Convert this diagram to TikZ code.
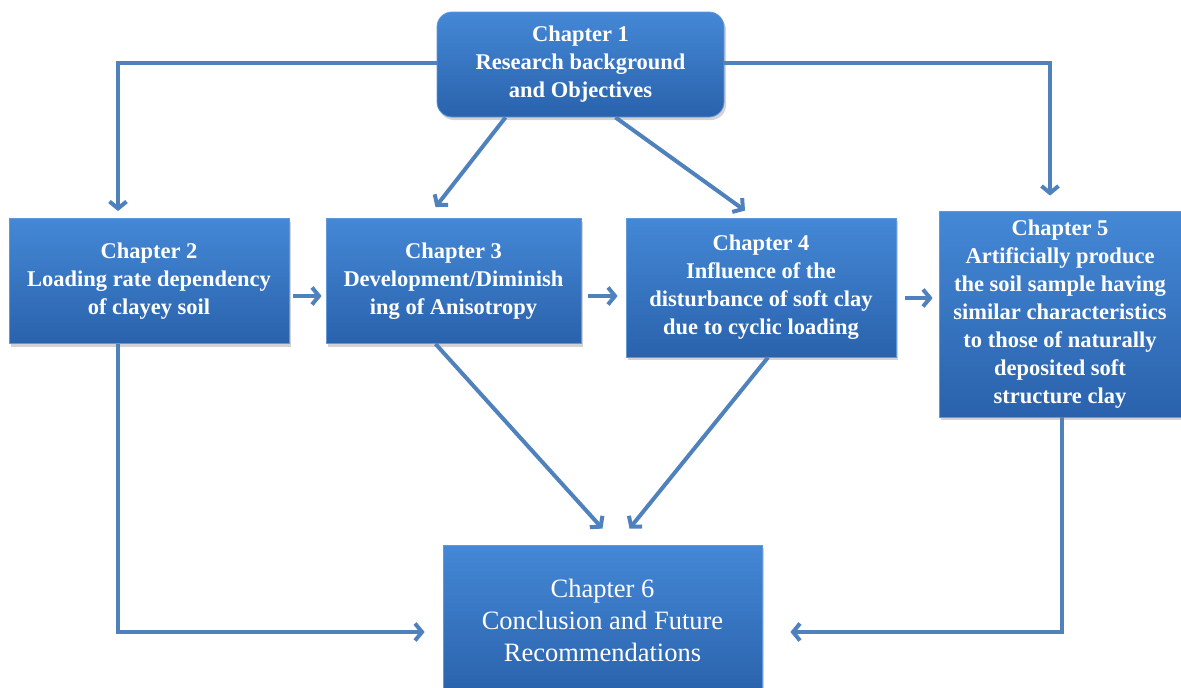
\documentclass[tikz,border=0pt]{standalone}
\usepackage{fontspec}
\setmainfont{Liberation Serif}
\usetikzlibrary{arrows.meta, shadows}

\definecolor{boxtop}{RGB}{68,136,214}
\definecolor{boxbot}{RGB}{42,98,172}
\definecolor{boxedge}{RGB}{96,152,218}
\definecolor{flowblue}{RGB}{79,129,189}

\begin{document}
\begin{tikzpicture}[x=1pt, y=-1pt,
		chapbox/.style={top color=boxtop, bottom color=boxbot, draw=boxedge, line width=0.8pt,
			text=white, align=center, inner sep=0pt, font=\fontsize{22.5}{28}\selectfont\bfseries,
			drop shadow={opacity=0.35, shadow xshift=2pt, shadow yshift=-3pt}},
		flow/.style={draw=flowblue, line width=4pt, -{Straight Barb[length=7pt, width=17pt]}}]
		\useasboundingbox (0,0) rectangle (1181,688);

		% Draw the chapter boxes
		\node[chapbox, rounded corners=15pt, minimum width=287pt, minimum height=105pt] (ch1) at (580.5,64.5)
			{Chapter 1\\Research background\\and Objectives};
		\node[chapbox, minimum width=280pt, minimum height=125pt] (ch2) at (149,281)
			{Chapter 2\\Loading rate dependency\\of clayey soil};
		\node[chapbox, minimum width=255pt, minimum height=125pt] (ch3) at (453.5,281)
			{Chapter 3\\Development/Diminish\\ing of Anisotropy};
		\node[chapbox, minimum width=270pt, minimum height=139pt] (ch4) at (761,287.5)
			{Chapter 4\\Influence of the\\disturbance of soft clay\\due to cyclic loading};
		\node[chapbox, minimum width=242pt, minimum height=206pt] (ch5) at (1060,314)
			{Chapter 5\\Artificially produce\\the soil sample having\\similar characteristics\\to those of naturally\\deposited soft\\structure clay};
		\node[chapbox, font=\fontsize{26.5}{32}\selectfont, minimum width=319pt, minimum height=150pt] (ch6) at (602.5,620)
			{Chapter 6\\Conclusion and Future\\Recommendations};

		% Draw the arrows from chapter 1
		\draw[flow] ([yshift=2pt]ch1.west) -| ([xshift=-31pt, yshift=7pt]ch2.north);
		\draw[flow] ([yshift=2pt]ch1.east) -| ([xshift=-10pt, yshift=15pt]ch5.north);
		\draw[flow] ([xshift=-75pt]ch1.south) -- ([xshift=-18pt, yshift=11pt]ch3.north);
		\draw[flow] ([xshift=35pt]ch1.south) -- ([xshift=-16pt, yshift=7pt]ch4.north);

		% Draw the arrows along the row
		\draw[flow] ([xshift=4pt, yshift=-15pt]ch2.east) -- ([xshift=-4pt, yshift=-15pt]ch3.west);
		\draw[flow] ([xshift=7pt, yshift=-15pt]ch3.east) -- ([xshift=-8pt, yshift=-8.5pt]ch4.west);
		\draw[flow] ([xshift=9pt, yshift=-10.5pt]ch4.east) -- ([xshift=-6pt, yshift=16pt]ch5.west);

		% Draw the arrows into chapter 6
		\draw[flow] ([xshift=-31pt]ch2.south) |- ([xshift=-18pt, yshift=-12pt]ch6.west);
		\draw[flow] ([xshift=2pt]ch5.south) |- ([xshift=28pt, yshift=-12pt]ch6.east);
		\draw[flow] ([xshift=-18pt]ch3.south) -- ([yshift=16pt]ch6.north);
		\draw[flow] ([xshift=7pt]ch4.south) -- ([xshift=27pt, yshift=16pt]ch6.north);

	\end{tikzpicture}
\end{document}
